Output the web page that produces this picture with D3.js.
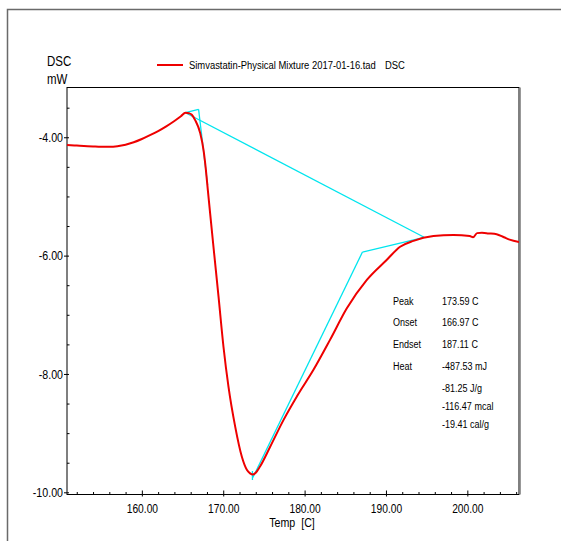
<!DOCTYPE html>
<html>
<head>
<meta charset="utf-8">
<script src="https://cdn.jsdelivr.net/npm/d3@7"></script>
<style>
html,body{margin:0;padding:0;background:#fff;}
svg{display:block;}
text{font-family:"Liberation Sans",Arial,sans-serif;fill:#000;}
</style>
</head>
<body>
<svg id="chart" width="561" height="541"></svg>
<script>
// ---- data ----
const tempC = [150.8,152,154,155,156,157,158,159,160,161,162,163,164,164.8,165.36,165.8,166.14,166.55,167.17,167.57,167.87,168.1,168.4,168.8,169.42,170.03,170.64,171.47,172.29,172.9,173.3,173.64,174.0,174.54,175.77,177.4,179.05,181.09,183.14,185.19,187.65,190.11,191.74,193.38,195.84,198.3,200.3,200.7,201.2,201.8,202.6,203.6,204.5,205.2,206.35];
const dscMW = [-4.13,-4.14,-4.155,-4.16,-4.16,-4.15,-4.125,-4.085,-4.03,-3.965,-3.895,-3.815,-3.725,-3.645,-3.585,-3.595,-3.62,-3.71,-3.93,-4.21,-4.55,-4.88,-5.30,-5.85,-6.69,-7.54,-8.21,-8.89,-9.40,-9.62,-9.68,-9.70,-9.67,-9.56,-9.23,-8.78,-8.38,-7.93,-7.42,-6.89,-6.41,-6.07,-5.85,-5.75,-5.67,-5.65,-5.67,-5.69,-5.62,-5.615,-5.625,-5.64,-5.69,-5.73,-5.77];

// analysis construction lines [t1, v1, t2, v2]
const analysisLines = [
  [165.36,-3.585,166.97,-3.527],   // peak start -> onset tangent top
  [166.97,-3.527,168.08,-4.81],    // onset tangent
  [165.36,-3.585,194.69,-5.69],    // baseline
  [194.69,-5.69,187.11,-5.94],     // endset baseline segment
  [187.11,-5.94,173.64,-9.75],     // endset tangent
  [173.59,-9.64,173.59,-9.79]      // peak marker
];

const xMajorTicks = [160,170,180,190,200];
const xTickLabels = ["160.00","170.00","180.00","190.00","200.00"];
const xMinorTicks = [152,154,156,158,162,164,166,168,172,174,176,178,182,184,186,188,192,194,196,198,202,204,206];
const yMajorTicks = [-4,-6,-8,-10];
const yTickLabels = ["-4.00","-6.00","-8.00","-10.00"];
const yMinorTicks = [-3.5,-4.5,-5,-5.5,-6.5,-7,-7.5,-8.5,-9,-9.5];

const legendLabel = "Simvastatin-Physical Mixture 2017-01-16.tad";
const legendSignal = "DSC";
const infoLabels = ["Peak","Onset","Endset","Heat","","",""];
const infoValues = ["173.59 C","166.97 C","187.11 C","-487.53 mJ","-81.25 J/g","-116.47 mcal","-19.41 cal/g"];

// ---- layout ----
const svg = d3.select("#chart");
const L = 67, R = 519, T = 87.5, B = 494.5;
const x = d3.scaleLinear().domain([150.8, 206.35]).range([L, R]);
const y = d3.scaleLinear().domain([-10.037, -3.159]).range([B, T]);

// outer frame
svg.append("path").attr("d", `M7.5,541 V9.5 H561`).attr("fill","none")
  .attr("stroke","#6a6a6a").attr("stroke-width",1.5);

// plot box
svg.append("rect").attr("x",L).attr("y",T).attr("width",R-L).attr("height",B-T)
  .attr("fill","none").attr("stroke","#000").attr("stroke-width",1);
svg.append("line").attr("x1",R+1.5).attr("x2",R+1.5).attr("y1",T).attr("y2",B)
  .attr("stroke","#999").attr("stroke-width",1);

// x axis
const xAxisMajor = d3.axisBottom(x).tickValues(xMajorTicks).tickSizeInner(-4).tickSizeOuter(0)
  .tickFormat((d,i)=>xTickLabels[i]).tickPadding(10);
const gx = svg.append("g").attr("transform",`translate(0,${B})`).call(xAxisMajor);
gx.select(".domain").remove();
gx.selectAll(".tick line").attr("y1",2).attr("y2",-4);
gx.selectAll(".tick text").attr("font-size","12.5px").attr("font-family",null);
const gxm = svg.append("g").attr("transform",`translate(0,${B})`)
  .call(d3.axisBottom(x).tickValues(xMinorTicks).tickSizeInner(-2.5).tickSizeOuter(0).tickFormat(""));
gxm.select(".domain").remove();

// y axis
const gy = svg.append("g").attr("transform",`translate(${L},0)`)
  .call(d3.axisLeft(y).tickValues(yMajorTicks).tickSizeInner(3).tickSizeOuter(0)
  .tickFormat((d,i)=>yTickLabels[i]).tickPadding(1));
gy.select(".domain").remove();
gy.selectAll(".tick line").attr("x1",2).attr("x2",-3);
gy.selectAll(".tick text").attr("font-size","13px").attr("font-family",null);
const gym = svg.append("g").attr("transform",`translate(${L},0)`)
  .call(d3.axisLeft(y).tickValues(yMinorTicks).tickSizeInner(-2.5).tickSizeOuter(0).tickFormat(""));
gym.select(".domain").remove();

// axis titles
svg.append("text").attr("x",47).attr("y",66).attr("font-size","14px").text("DSC");
svg.append("text").attr("x",47).attr("y",84).attr("font-size","14px").text("mW");
svg.append("text").attr("x",292).attr("y",527).attr("text-anchor","middle")
  .attr("font-size","13px").style("white-space","pre").text("Temp  [C]");

// clip
svg.append("clipPath").attr("id","clip").append("rect")
  .attr("x",L).attr("y",T).attr("width",R-L).attr("height",B-T);
const plot = svg.append("g").attr("clip-path","url(#clip)");

// cyan analysis lines
plot.selectAll("line.an").data(analysisLines).join("line").attr("class","an")
  .attr("x1",d=>x(d[0])).attr("y1",d=>y(d[1])).attr("x2",d=>x(d[2])).attr("y2",d=>y(d[3]))
  .attr("stroke","#00e5ee").attr("stroke-width",1.3);

// red curve
const data = tempC.map((t,i)=>[t,dscMW[i]]);
plot.append("path").datum(data)
  .attr("d", d3.line().x(d=>x(d[0])).y(d=>y(d[1])).curve(d3.curveMonotoneX))
  .attr("fill","none").attr("stroke","#ee0000").attr("stroke-width",2);

// legend
svg.append("line").attr("x1",157).attr("x2",183).attr("y1",65).attr("y2",65)
  .attr("stroke","#ee0000").attr("stroke-width",2);
svg.append("text").attr("x",189).attr("y",69.5).attr("font-size","11.5px").text(legendLabel);
svg.append("text").attr("x",385).attr("y",69.5).attr("font-size","11.5px").text(legendSignal);

// info block
const rowY = [300.7,322.3,344,366,388,406,424];
const info = svg.append("g");
info.selectAll("text.lab").data(infoLabels).join("text").attr("class","lab")
  .attr("x",393).attr("y",(d,i)=>rowY[i]+4).attr("font-size","11px").text(d=>d);
info.selectAll("text.val").data(infoValues).join("text").attr("class","val")
  .attr("x",442).attr("y",(d,i)=>rowY[i]+4).attr("font-size","11px").text(d=>d);

// condensed look (narrow typeface emulation): scale horizontally about each text's anchor
svg.selectAll("text").each(function(){
  const ax = parseFloat(this.getAttribute("x")) || 0;
  const prev = this.getAttribute("transform") || "";
  this.setAttribute("transform", `${prev} translate(${ax},0) scale(0.82,1) translate(${-ax},0)`.trim());
});
</script>
</body>
</html>
